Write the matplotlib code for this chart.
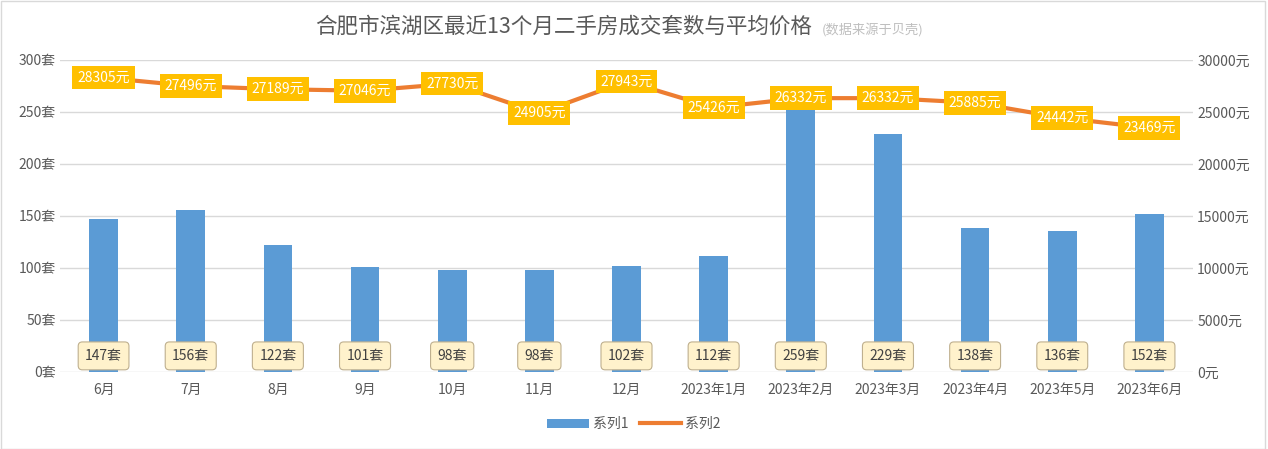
import numpy as np
import matplotlib
matplotlib.use('Agg')
import matplotlib.pyplot as plt
from matplotlib.patches import Rectangle

plt.rcParams['font.family'] = ['Noto Sans CJK SC', 'DejaVu Sans']

months = ['6月', '7月', '8月', '9月', '10月', '11月', '12月',
          '2023年1月', '2023年2月', '2023年3月', '2023年4月', '2023年5月', '2023年6月']
deals = [147, 156, 122, 101, 98, 98, 102, 112, 259, 229, 138, 136, 152]
prices = [28305, 27496, 27189, 27046, 27730, 24905, 27943, 25426, 26332, 26332, 25885, 24442, 23469]

fig = plt.figure(figsize=(12.68, 4.49), dpi=100)
ax = fig.add_axes([60 / 1268, 1 - 372 / 449, 1133 / 1268, 312 / 449])
ax2 = ax.twinx()

x = np.arange(len(months))
ax.bar(x, deals, width=0.33, color='#5B9BD5', zorder=2, label='系列1')
ax.set_xlim(-0.5, len(months) - 0.5)
ax.set_ylim(0, 300)
ax.set_yticks(range(0, 301, 50))
ax.set_yticklabels([f'{v}套' for v in range(0, 301, 50)])
ax.set_xticks(x)
ax.set_xticklabels(months)
ax.grid(axis='y', color='#D9D9D9', linewidth=1, zorder=0)
ax.set_axisbelow(True)

ax2.plot(x, prices, color='#ED7D31', linewidth=3, zorder=3, label='系列2')
ax2.set_ylim(0, 30000)
ax2.set_yticks(range(0, 30001, 5000))
ax2.set_yticklabels([f'{v}元' for v in range(0, 30001, 5000)])

for a in (ax, ax2):
    for s in a.spines.values():
        s.set_visible(False)
    a.tick_params(length=0, labelsize=10, colors='#595959', pad=3)
ax.tick_params(axis='x', pad=8)

for xi, d in zip(x, deals):
    ax.text(xi, 15.5, f'{d}套', ha='center', va='center', fontsize=10, color='#404040', zorder=5,
            bbox=dict(boxstyle='round,pad=0.5,rounding_size=0.3', fc='#FFF2CC', ec='#BFB08F', lw=0.8))

for xi, p in zip(x, prices):
    ax2.text(xi, p, f'{p}元', ha='center', va='center', fontsize=10, color='white', zorder=6,
             bbox=dict(boxstyle='square,pad=0.35', fc='#FFC000', ec='none'))

fig.text(564 / 1268, 0.94, '合肥市滨湖区最近13个月二手房成交套数与平均价格', ha='center', va='center',
         fontsize=15.5, color='#595959')
fig.text(822 / 1268, 0.935, '(数据来源于贝壳)', ha='left', va='center', fontsize=9.5, color='#BFBFBF')

h1, l1 = ax.get_legend_handles_labels()
h2, l2 = ax2.get_legend_handles_labels()
fig.legend(h1 + h2, l1 + l2, loc='center', bbox_to_anchor=(0.5, 0.055), ncol=2, frameon=False,
           fontsize=10, labelcolor='#595959', handlelength=3, columnspacing=0.8, handletextpad=0.3)

fig.patches.append(Rectangle((0.001, 0.001), 0.997, 0.997, transform=fig.transFigure,
                             fill=False, ec='#D9D9D9', lw=1))

fig.savefig('out.png', dpi=100, facecolor='white')
